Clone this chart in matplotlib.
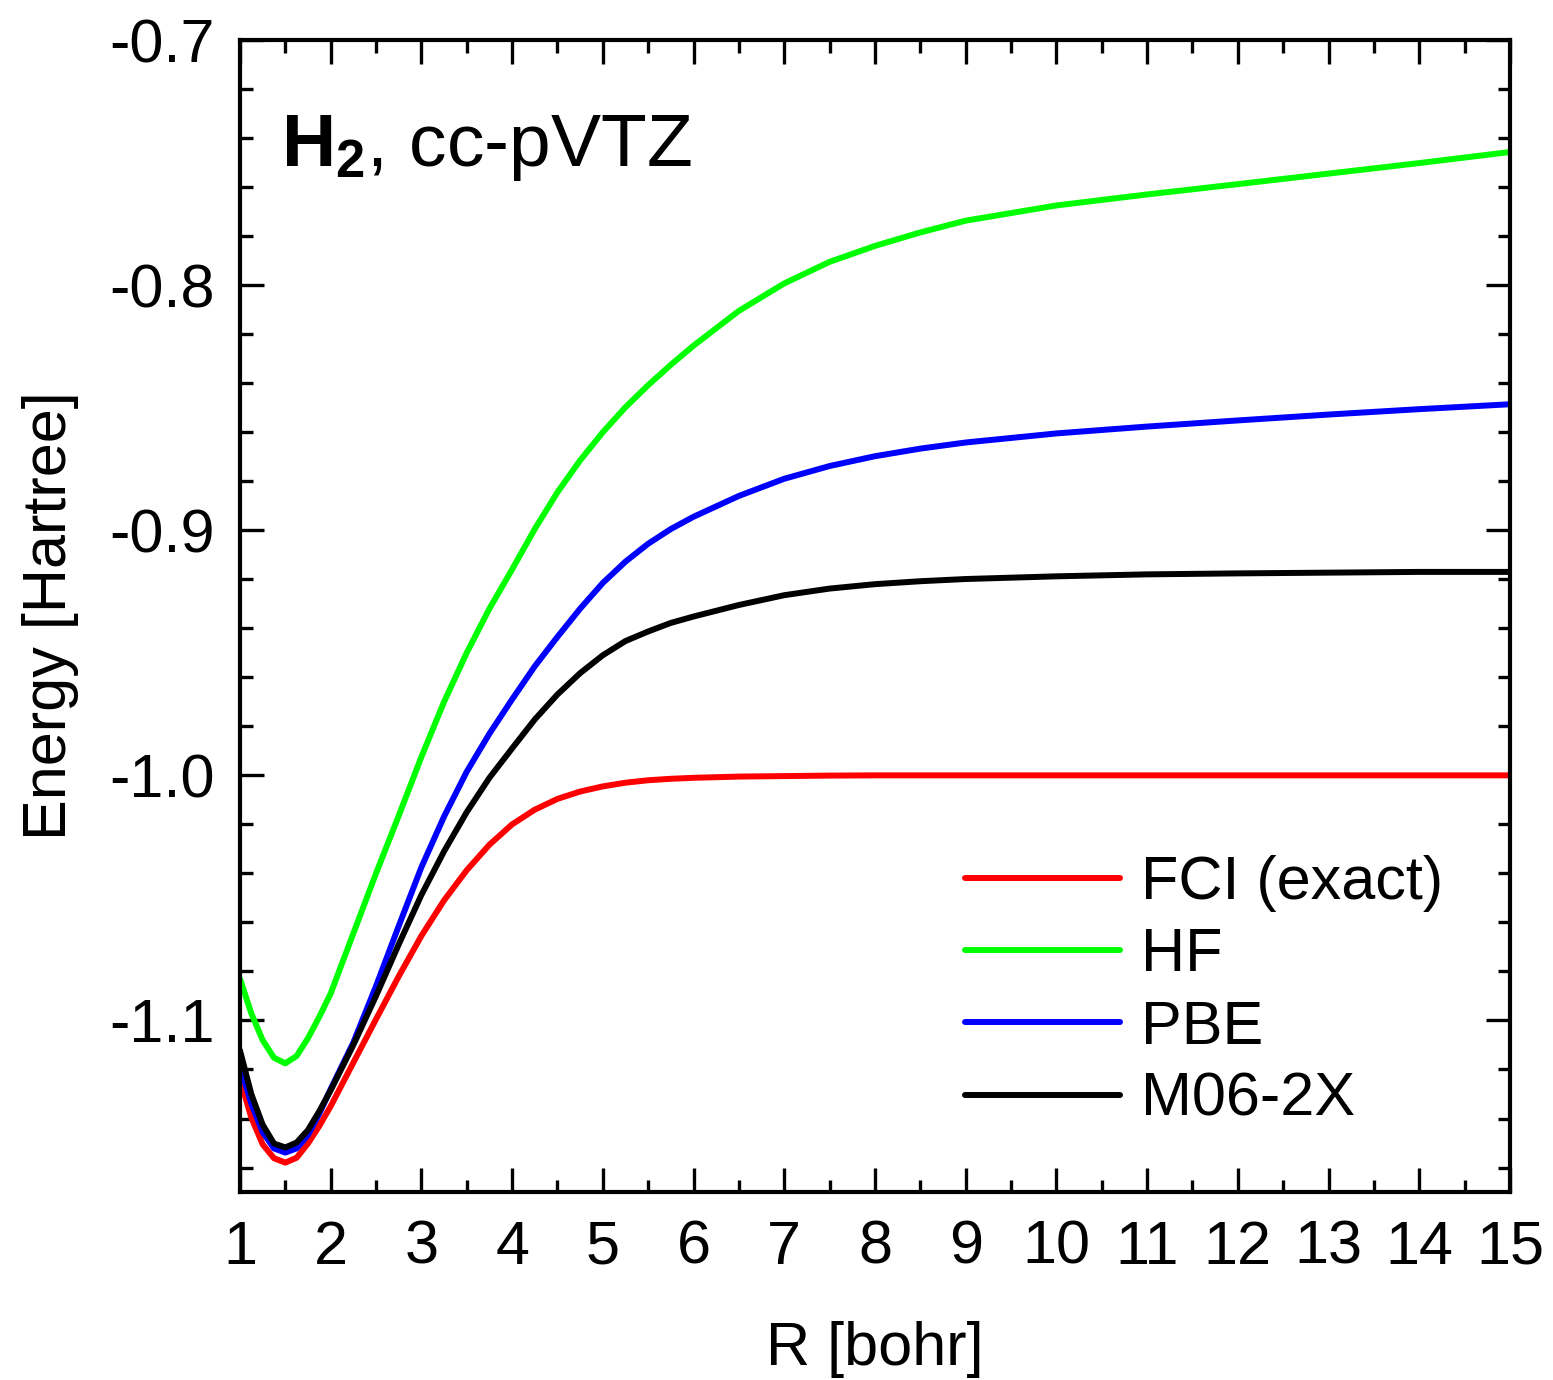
import numpy as np
import matplotlib
matplotlib.use('Agg')
import matplotlib.pyplot as plt
from matplotlib.ticker import MultipleLocator, FormatStrFormatter

# bond length grid (bohr)
R = [1.0, 1.125, 1.25, 1.375, 1.5, 1.625, 1.75, 1.875, 2.0, 2.25, 2.5, 2.75,
     3.0, 3.25, 3.5, 3.75, 4.0, 4.25, 4.5, 4.75, 5.0, 5.25, 5.5, 5.75, 6.0,
     6.5, 7.0, 7.5, 8.0, 8.5, 9.0, 10.0, 11.0, 12.0, 13.0, 14.0, 15.0]

fci = [-1.1237, -1.1396, -1.1505, -1.1562, -1.1580, -1.1560, -1.1502, -1.1430,
       -1.1350, -1.1172, -1.0995, -1.0820, -1.0655, -1.0510, -1.0387, -1.0283,
       -1.0200, -1.0140, -1.0096, -1.0066, -1.0045, -1.0030, -1.0020, -1.0014,
       -1.0010, -1.0005, -1.0003, -1.0001, -1.0, -1.0, -1.0, -1.0, -1.0, -1.0,
       -1.0, -1.0, -1.0]
hf = [-1.0829, -1.0971, -1.1080, -1.1152, -1.1175, -1.1145, -1.1072, -1.0985,
      -1.0890, -1.0645, -1.0400, -1.0165, -0.9925, -0.9700, -0.9500, -0.9320,
      -0.9160, -0.8995, -0.8845, -0.8715, -0.8600, -0.8498, -0.8408, -0.8325,
      -0.8247, -0.8105, -0.7993, -0.7905, -0.7840, -0.7785, -0.7737, -0.7675,
      -0.7630, -0.7588, -0.7545, -0.7502, -0.7457]
pbe = [-1.1184, -1.1339, -1.1455, -1.1522, -1.1539, -1.1522, -1.1467, -1.1380,
       -1.1280, -1.1090, -1.0860, -1.0615, -1.0375, -1.0168, -0.9985, -0.9830,
       -0.9690, -0.9555, -0.9435, -0.9320, -0.9215, -0.9128, -0.9055, -0.8995,
       -0.8945, -0.8860, -0.8790, -0.8738, -0.8698, -0.8667, -0.8642, -0.8605,
       -0.8577, -0.8552, -0.8528, -0.8506, -0.8486]
m062x = [-1.1122, -1.1300, -1.1425, -1.1502, -1.1518, -1.1498, -1.1447, -1.1370,
         -1.1285, -1.1100, -1.0900, -1.0690, -1.0488, -1.0310, -1.0150, -1.0010,
         -0.9890, -0.9772, -0.9670, -0.9583, -0.9510, -0.9452, -0.9413, -0.9378,
         -0.9352, -0.9305, -0.9265, -0.9238, -0.9220, -0.9208, -0.9199, -0.9188,
         -0.9180, -0.9176, -0.9173, -0.9170, -0.9170]

labels = ['FCI (exact)', 'HF', 'PBE', 'M06-2X']
colors = ['#ff0000', '#00ff00', '#0000ff', '#000000']

plt.rcParams['font.family'] = ['Liberation Sans', 'DejaVu Sans']
plt.rcParams['mathtext.fontset'] = 'custom'
plt.rcParams['mathtext.rm'] = 'Liberation Sans'
plt.rcParams['mathtext.bf'] = 'Liberation Sans:bold'
plt.rcParams['axes.unicode_minus'] = False

fig = plt.figure(figsize=(15.53, 13.8), dpi=100)
ax = fig.add_axes([0.1545, 0.1362, 0.8178, 0.8348])

for series, label, color in zip([fci, hf, pbe, m062x], labels, colors):
    ax.plot(R, series, color=color, lw=4.3, label=label,
            solid_capstyle='round', solid_joinstyle='round')

ax.set_xlim(1, 15)
ax.set_ylim(-1.17, -0.7)

ax.xaxis.set_major_locator(MultipleLocator(1))
ax.xaxis.set_minor_locator(MultipleLocator(0.5))
ax.yaxis.set_major_locator(MultipleLocator(0.1))
ax.yaxis.set_minor_locator(MultipleLocator(0.02))
ax.yaxis.set_major_formatter(FormatStrFormatter('%.1f'))

ax.tick_params(which='both', direction='in', top=True, right=True, width=2.4)
ax.tick_params(which='major', length=17, labelsize=44)
ax.tick_params(axis='x', which='major', pad=20)
ax.tick_params(axis='y', which='major', pad=18)
ax.tick_params(which='minor', length=9)
for s in ax.spines.values():
    s.set_linewidth(3)

ax.set_xlabel('R [bohr]', fontsize=44, labelpad=32)
ax.set_ylabel('Energy [Hartree]', fontsize=44, labelpad=22)

ax.text(0.032, 0.891, r'$\mathbf{H_2}$, cc-pVTZ', transform=ax.transAxes,
        fontsize=54, va='baseline', ha='left')

ax.legend(loc='upper left', bbox_to_anchor=(0.571, 0.2925), frameon=False,
          fontsize=44, handlelength=2.54, handletextpad=0.33, labelspacing=0.25,
          borderpad=0, borderaxespad=0)

fig.savefig('out.png', dpi=100)
